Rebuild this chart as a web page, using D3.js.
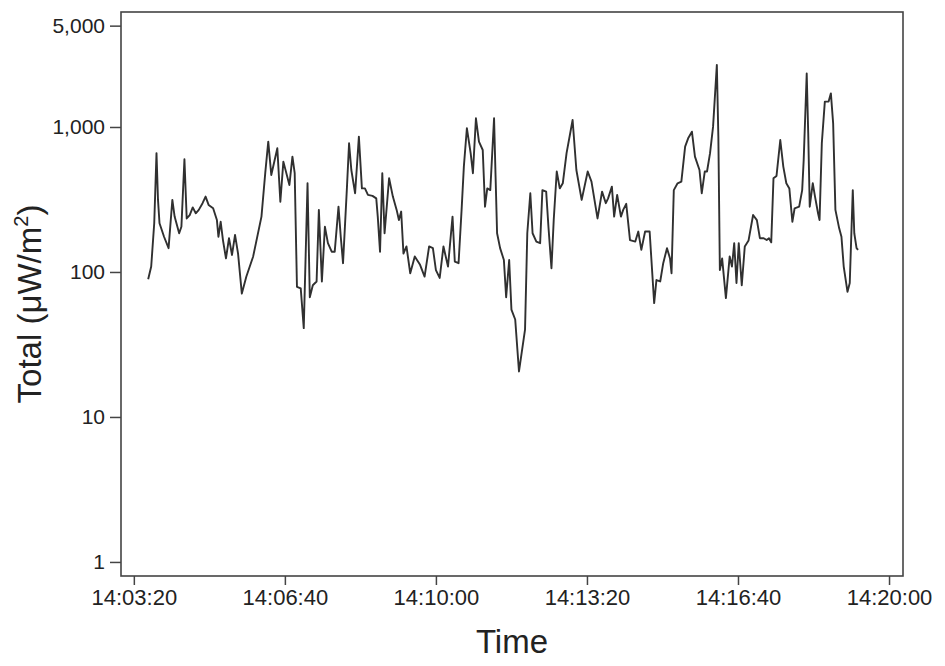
<!DOCTYPE html>
<html>
<head>
<meta charset="utf-8">
<script src="https://cdn.jsdelivr.net/npm/d3@7"></script>
<style>
  body { margin: 0; background: #fff; }
  text { font-family: "Liberation Sans", Arial, sans-serif; fill: #222; }
</style>
</head>
<body>
<svg id="chart" width="945" height="666"></svg>
<script>
// seconds after 14:00:00
const times = [
  219, 223, 227, 230, 232, 234, 240, 246, 251, 254, 260, 263, 267, 270, 274, 278, 282, 286, 291, 295,
  299, 305, 310, 312, 315, 318, 322, 326, 330, 334, 338, 343, 349, 358, 369, 374, 378, 382, 390, 394,
  398, 406, 410, 413, 416, 421, 425, 430, 433, 437, 442, 445, 449, 453, 457, 462, 466, 471, 474, 477,
  482, 485, 488, 493, 498, 502, 506, 510, 516, 521, 523, 526, 529, 532, 538, 543, 548, 551, 554, 557,
  561, 566, 572, 579, 585, 591, 596, 600, 605, 610, 616, 622, 625, 630, 634, 637, 641, 646, 649, 653,
  657, 662, 665, 668, 672, 677, 679, 681, 685, 690, 693, 697, 700, 705, 710, 718, 721, 725, 728, 733,
  738, 741, 746, 749, 753, 756, 760, 764, 768, 773, 781, 786, 793, 801, 806, 814, 820, 825, 828, 833,
  836, 840, 845, 848, 852, 857, 864, 868, 872, 877, 883, 889, 892, 897, 901, 906, 910, 912, 915, 920,
  925, 930, 934, 939, 943, 949, 952, 956, 959, 963, 967, 972, 974, 976, 979, 984, 989, 992, 995, 998,
  1001, 1005, 1009, 1014, 1020, 1025, 1029, 1034, 1038, 1041, 1044, 1047, 1051, 1056, 1060, 1064, 1068, 1072, 1075, 1081,
  1085, 1087, 1091, 1093, 1095, 1099, 1102, 1106, 1108, 1111, 1115, 1120, 1123, 1126, 1129, 1134, 1137, 1140, 1145, 1148,
  1152, 1154, 1157, 1159
];
// total irradiance, µW/m²
const totals = [
  89, 109, 217, 660, 314, 217, 175, 146, 314, 241, 185, 205, 599, 234, 247, 279, 254, 268, 298, 331,
  290, 275, 228, 175, 222, 166, 124, 171, 131, 180, 134, 71, 93, 128, 241, 480, 792, 467, 713, 305,
  577, 398, 625, 480, 79, 77, 41, 409, 67, 81, 86, 268, 86, 205, 158, 138, 138, 282, 175, 115,
  367, 772, 505, 349, 858, 377, 377, 340, 335, 322, 241, 138, 480, 185, 443, 331, 268, 228, 261, 134,
  150, 98, 128, 112, 93, 150, 146, 103, 91, 150, 109, 241, 118, 115, 268, 533, 980, 660, 480, 1148,
  792, 694, 282, 377, 367, 1148, 455, 185, 146, 121, 67, 121, 55, 47, 20.6, 40, 185, 349, 185, 162,
  158, 367, 358, 205, 106, 228, 493, 377, 409, 660, 1117, 505, 314, 493, 420, 234, 358, 298, 322, 388,
  241, 340, 241, 268, 295, 166, 162, 190, 142, 190, 190, 61, 88, 86, 115, 146, 124, 98, 367, 409,
  420, 732, 835, 928, 625, 505, 349, 493, 493, 660, 1005, 2680, 858, 103, 124, 66, 128, 109, 158, 84,
  158, 81, 150, 165, 247, 228, 171, 171, 166, 171, 160, 443, 460, 813, 533, 409, 377, 222, 275, 282,
  367, 592, 2340, 905, 282, 409, 331, 254, 228, 772, 1497, 1497, 1706, 1060, 268, 200, 175, 109, 73, 84,
  367, 185, 146, 142
];
const xTicks = [200, 400, 600, 800, 1000, 1200];
const yTicks = [1, 10, 100, 1000, 5000];

const data = times.map((t, i) => ({ t, v: totals[i] }));

const margin = { left: 121, right: 903, top: 12, bottom: 576 };
const svg = d3.select("#chart");

const x = d3.scaleLinear().domain([183, 1218.5]).range([margin.left, margin.right]);
const y = d3.scaleLog().domain([0.8, 6210]).range([margin.bottom, margin.top]);

const fmtTime = s => {
  let m = Math.floor(s / 60), sec = s % 60;
  return `14:${String(m).padStart(2, "0")}:${String(sec).padStart(2, "0")}`;
};

let xAxis = svg.append("g")
  .attr("transform", `translate(0,${margin.bottom})`)
  .call(d3.axisBottom(x).tickValues(xTicks).tickFormat(fmtTime).tickSize(9).tickPadding(4));

let yAxis = svg.append("g")
  .attr("transform", `translate(${margin.left},0)`)
  .call(d3.axisLeft(y).tickValues(yTicks).tickFormat(d3.format(",")).tickSize(11).tickPadding(5));

[xAxis, yAxis].forEach(a => {
  a.select(".domain").remove();
  a.selectAll(".tick line").attr("stroke", "#444").attr("stroke-width", 1.5);
  a.selectAll(".tick text").attr("fill", "#2a2a2a");
});
xAxis.selectAll(".tick text").style("font-size", "22px");
yAxis.selectAll(".tick text").style("font-size", "21px");

svg.append("rect")
  .attr("x", margin.left).attr("y", margin.top)
  .attr("width", margin.right - margin.left).attr("height", margin.bottom - margin.top)
  .attr("fill", "none").attr("stroke", "#444").attr("stroke-width", 1.6);

let line = d3.line().x(d => x(d.t)).y(d => y(d.v));
svg.append("path")
  .datum(data)
  .attr("d", line)
  .attr("fill", "none")
  .attr("stroke", "#303030")
  .attr("stroke-width", 1.9)
  .attr("stroke-linejoin", "round");

svg.append("text")
  .attr("x", 512).attr("y", 653)
  .attr("text-anchor", "middle")
  .style("font-size", "33px")
  .text("Time");

svg.append("text")
  .attr("transform", `translate(41,304) rotate(-90)`)
  .attr("text-anchor", "middle")
  .style("font-size", "33px")
  .html('Total (μW/m<tspan dy="-13" font-size="20px">2</tspan><tspan dy="13">)</tspan>');
</script>
</body>
</html>
